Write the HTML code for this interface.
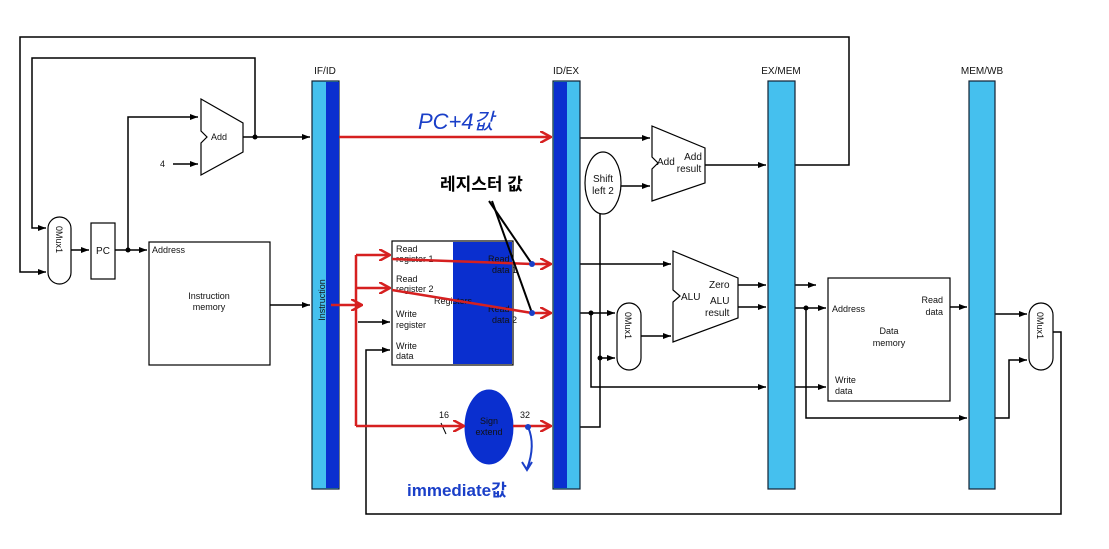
<!DOCTYPE html>
<html><head><meta charset="utf-8"><style>
html,body{margin:0;padding:0;background:#fff;width:1109px;height:549px;overflow:hidden}
text{font-family:"Liberation Sans","Noto Sans CJK KR",sans-serif;fill:#111}
</style></head><body>
<svg width="1109" height="549" viewBox="0 0 1109 549" xmlns="http://www.w3.org/2000/svg">
<defs>
<marker id="a" markerWidth="8" markerHeight="6" refX="8" refY="3" orient="auto" markerUnits="userSpaceOnUse"><path d="M0,0 L8,3 L0,6 z" fill="#000"/></marker>
<marker id="r" markerWidth="12" markerHeight="12" refX="11" refY="6" orient="auto" markerUnits="userSpaceOnUse"><path d="M0,0 L11,6 L0,12" fill="none" stroke="#d62020" stroke-width="2.5"/></marker>
</defs>
<g fill="none" stroke="#000" stroke-width="1.5">
<polyline points="795,165 849,165 849,37 20,37 20,272 46,272" marker-end="url(#a)"/>
<polyline points="255,137 255,58 32,58 32,228 46,228" marker-end="url(#a)"/>
<line x1="71" y1="250" x2="89" y2="250" marker-end="url(#a)"/>
<line x1="115" y1="250" x2="147" y2="250" marker-end="url(#a)"/>
<polyline points="128,250 128,117 198,117" marker-end="url(#a)"/>
<line x1="173" y1="164" x2="198" y2="164" marker-end="url(#a)"/>
<line x1="243" y1="137" x2="310" y2="137" marker-end="url(#a)"/>
<line x1="270" y1="305" x2="310" y2="305" marker-end="url(#a)"/>
<line x1="358" y1="322" x2="390" y2="322" marker-end="url(#a)"/>
<polyline points="1053,332 1061,332 1061,514 366,514 366,350 390,350" marker-end="url(#a)"/>
<line x1="580" y1="138" x2="650" y2="138" marker-end="url(#a)"/>
<line x1="621" y1="186" x2="650" y2="186" marker-end="url(#a)"/>
<polyline points="600,214 600,427 580,427"/>
<line x1="705" y1="165" x2="766" y2="165" marker-end="url(#a)"/>
<line x1="580" y1="264" x2="671" y2="264" marker-end="url(#a)"/>
<line x1="580" y1="313" x2="615" y2="313" marker-end="url(#a)"/>
<line x1="600" y1="358" x2="615" y2="358" marker-end="url(#a)"/>
<line x1="641" y1="336" x2="671" y2="336" marker-end="url(#a)"/>
<polyline points="591,313 591,387 766,387" marker-end="url(#a)"/>
<line x1="738" y1="285" x2="766" y2="285" marker-end="url(#a)"/>
<line x1="738" y1="307" x2="766" y2="307" marker-end="url(#a)"/>
<line x1="795" y1="285" x2="816" y2="285" marker-end="url(#a)"/>
<line x1="795" y1="308" x2="826" y2="308" marker-end="url(#a)"/>
<line x1="795" y1="387" x2="826" y2="387" marker-end="url(#a)"/>
<polyline points="806,308 806,418 967,418" marker-end="url(#a)"/>
<line x1="950" y1="307" x2="967" y2="307" marker-end="url(#a)"/>
<line x1="995" y1="314" x2="1027" y2="314" marker-end="url(#a)"/>
<polyline points="995,418 1009,418 1009,360 1027,360" marker-end="url(#a)"/>
</g>
<g fill="#000"><circle cx="255" cy="137" r="2.5"/><circle cx="128" cy="250" r="2.5"/><circle cx="331" cy="305" r="2.5"/><circle cx="591" cy="313" r="2.5"/><circle cx="600" cy="358" r="2.5"/><circle cx="806" cy="308" r="2.5"/></g>
<rect x="312" y="81" width="27" height="408" fill="#45c0ee" stroke="#123" stroke-width="1.2"/>
<rect x="326" y="82" width="13" height="406" fill="#0a2fcf"/>
<rect x="553" y="81" width="27" height="408" fill="#45c0ee" stroke="#123" stroke-width="1.2"/>
<rect x="554" y="82" width="13" height="406" fill="#0a2fcf"/>
<rect x="768" y="81" width="27" height="408" fill="#45c0ee" stroke="#123" stroke-width="1.2"/>
<rect x="969" y="81" width="26" height="408" fill="#45c0ee" stroke="#123" stroke-width="1.2"/>
<g font-size="10" text-anchor="middle"><text x="325" y="74">IF/ID</text><text x="566" y="74">ID/EX</text><text x="781" y="74">EX/MEM</text><text x="982" y="74">MEM/WB</text></g>
<g fill="#fff" stroke="#000" stroke-width="1.2">
<rect x="48" y="217" width="23" height="67" rx="11.5"/>
<rect x="617" y="303" width="24" height="67" rx="12"/>
<rect x="1029" y="303" width="24" height="67" rx="12"/>
<rect x="91" y="223" width="24" height="56"/>
<rect x="149" y="242" width="121" height="123"/>
<rect x="828" y="278" width="122" height="123"/>
<path d="M201,99 L243,123 L243,152 L201,175 L201,143 L207,137 L201,131 Z"/>
<path d="M652,126 L705,148 L705,183 L652,201 L652,169 L658,163 L652,157 Z"/>
<path d="M673,251 L738,278 L738,318 L673,342 L673,302 L680,296 L673,290 Z"/>
<ellipse cx="603" cy="183" rx="18" ry="31"/>
</g>
<g font-size="9"><text transform="translate(56,226) rotate(90)">0Mux1</text>
<text transform="translate(625,312) rotate(90)">0Mux1</text>
<text transform="translate(1037,312) rotate(90)">0Mux1</text></g>
<text x="103" y="254" font-size="10" text-anchor="middle">PC</text>
<text x="211" y="140" font-size="9">Add</text>
<text x="160" y="167" font-size="9">4</text>
<text x="152" y="253" font-size="9">Address</text>
<text x="209" y="299" font-size="9" text-anchor="middle">Instruction</text>
<text x="209" y="310" font-size="9" text-anchor="middle">memory</text>
<text x="603" y="182" font-size="10" text-anchor="middle">Shift</text>
<text x="603" y="194" font-size="10" text-anchor="middle">left 2</text>
<text x="657" y="165" font-size="10">Add</text>
<text x="693" y="160" font-size="10" text-anchor="middle">Add</text>
<text x="689" y="172" font-size="10" text-anchor="middle">result</text>
<text x="681" y="300" font-size="10">ALU</text>
<text x="709" y="288" font-size="10">Zero</text>
<text x="710" y="304" font-size="10">ALU</text>
<text x="705" y="316" font-size="10">result</text>
<text x="832" y="312" font-size="9">Address</text>
<text x="943" y="303" font-size="9" text-anchor="end">Read</text>
<text x="943" y="315" font-size="9" text-anchor="end">data</text>
<text x="889" y="334" font-size="9" text-anchor="middle">Data</text>
<text x="889" y="346" font-size="9" text-anchor="middle">memory</text>
<text x="835" y="383" font-size="9">Write</text>
<text x="835" y="394" font-size="9">data</text>
<rect x="392" y="241" width="121" height="124" fill="#fff" stroke="#000" stroke-width="1.2"/>
<rect x="453" y="242" width="59" height="122" fill="#0a2fcf"/>
<g font-size="9"><text x="396" y="252">Read</text><text x="396" y="262">register 1</text><text x="396" y="282">Read</text><text x="396" y="292">register 2</text><text x="434" y="304">Registers</text><text x="396" y="317">Write</text><text x="396" y="328">register</text><text x="396" y="349">Write</text><text x="396" y="359">data</text></g>
<g font-size="9" style="fill:#3050d8"><text x="488" y="262">Read</text><text x="492" y="273">data 1</text><text x="488" y="312">Read</text><text x="492" y="323">data 2</text></g>
<text x="325" y="300" font-size="9" transform="rotate(-90 325 300)" text-anchor="middle">Instruction</text>
<ellipse cx="489" cy="427" rx="24" ry="37" fill="#0a2fcf" stroke="#0a2fcf"/>
<g font-size="9" text-anchor="middle" style="fill:#3050d8"><text x="489" y="424">Sign</text><text x="489" y="435">extend</text></g>
<text x="439" y="418" font-size="9">16</text>
<text x="520" y="418" font-size="9">32</text>
<line x1="441" y1="423" x2="446" y2="434" stroke="#000"/>
<g fill="none" stroke="#d62020" stroke-width="2.5">
<line x1="339" y1="137" x2="551" y2="137" marker-end="url(#r)"/>
<polyline points="331,305 356,305"/>
<polyline points="356,255 356,426"/>
<line x1="356" y1="255" x2="390" y2="255" marker-end="url(#r)"/>
<line x1="356" y1="288" x2="390" y2="288" marker-end="url(#r)"/>
<line x1="356" y1="305" x2="362" y2="305" marker-end="url(#r)"/>
<line x1="356" y1="426" x2="464" y2="426" marker-end="url(#r)"/>
<polyline points="392,259 532,264 551,264" marker-end="url(#r)"/>
<polyline points="392,290 532,313 551,313" marker-end="url(#r)"/>
<line x1="513" y1="426" x2="551" y2="426" marker-end="url(#r)"/>
</g>
<g stroke="#000" stroke-width="2"><line x1="489" y1="201" x2="532" y2="264"/><line x1="492" y1="201" x2="532" y2="313"/></g>
<g fill="#1a3fc8"><circle cx="532" cy="264" r="3"/><circle cx="532" cy="313" r="3"/><circle cx="528" cy="427" r="3"/></g>
<path d="M528,427 Q536,445 527,469" fill="none" stroke="#1a3fc8" stroke-width="2"/>
<path d="M522,462 L527,470 L532,462" fill="none" stroke="#1a3fc8" stroke-width="2"/>
<text x="418" y="129" font-size="22" style="fill:#1a3fc8;font-style:italic">PC+4값</text>
<text x="440" y="190" font-size="17" font-weight="bold" style="fill:#000">레지스터 값</text>
<text x="407" y="496" font-size="17" font-weight="bold" style="fill:#1a3fc8">immediate값</text>
</svg>
</body></html>
